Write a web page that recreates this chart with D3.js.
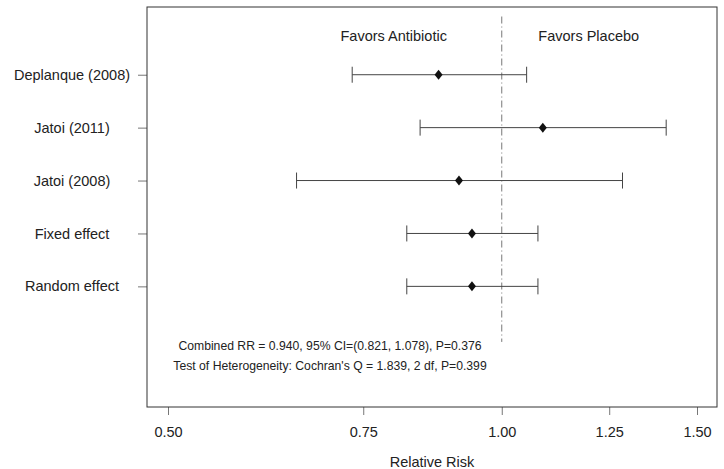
<!DOCTYPE html>
<html>
<head>
<meta charset="utf-8">
<script src="https://cdn.jsdelivr.net/npm/d3@7"></script>
<style>
  body { margin: 0; background: #fff; }
  svg { font-family: "Liberation Sans", Arial, sans-serif; }
</style>
</head>
<body>
<div id="chart"></div>
<script>
// forest plot data
var studies = ["Deplanque (2008)", "Jatoi (2011)", "Jatoi (2008)", "Fixed effect", "Random effect"]
var rr    = [0.877, 1.089, 0.915, 0.940, 0.940]
var lower = [0.733, 0.844, 0.653, 0.821, 0.821]
var upper = [1.053, 1.407, 1.285, 1.078, 1.078]
var rows  = [5, 4, 3, 2, 1]
var xTicks = [0.50, 0.75, 1.00, 1.25, 1.50]
var notes = [
  "Combined RR = 0.940, 95% CI=(0.821, 1.078), P=0.376",
  "Test of Heterogeneity: Cochran's Q = 1.839, 2 df, P=0.399"
]

var w = 724, h = 469
var box = {left: 147, right: 717, top: 7, bottom: 407}
var fs = 14.5

var svg = d3.select("#chart").append("svg")
  .attr("width", w)
  .attr("height", h)

var x = d3.scaleLog().domain([0.5, 1.5]).range([168, 697])
var y = d3.scaleLinear().domain([-1.28, 6.28]).range([box.bottom, box.top])

var data = studies.map(function(s, i) {
  return {name: s, rr: rr[i], lo: lower[i], hi: upper[i], row: rows[i]}
})

// reference line at RR = 1
svg.append("line")
  .attr("x1", x(1)).attr("x2", x(1))
  .attr("y1", y(6.1)).attr("y2", y(-0.05))
  .attr("stroke", "#777")
  .attr("stroke-width", 1)
  .attr("stroke-dasharray", "7,3,1,3")

// x axis
var xAxis = svg.append("g")
  .attr("transform", "translate(0," + box.bottom + ")")
  .call(d3.axisBottom(x).tickValues(xTicks).tickFormat(d3.format(".2f")).tickSize(8).tickPadding(12))
xAxis.select(".domain").remove()
xAxis.selectAll(".tick line").attr("stroke", "#777")
xAxis.selectAll("text").attr("font-size", fs).attr("fill", "#222")
  .attr("font-family", "'Liberation Sans', Arial, sans-serif")

// y axis ticks
var yAxis = svg.append("g")
  .attr("transform", "translate(" + box.left + ",0)")
  .call(d3.axisLeft(y).tickValues(rows).tickFormat("").tickSize(9))
yAxis.select(".domain").remove()
yAxis.selectAll(".tick line").attr("stroke", "#777")

// study labels
svg.selectAll(".lab")
  .data(data)
  .enter()
  .append("text")
  .attr("class", "lab")
  .attr("x", 72)
  .attr("y", function(d) { return y(d.row) })
  .attr("dy", "0.35em")
  .attr("text-anchor", "middle")
  .attr("font-size", fs)
  .attr("fill", "#222")
  .text(function(d) { return d.name })

// plot frame
svg.append("rect")
  .attr("x", box.left).attr("y", box.top)
  .attr("width", box.right - box.left)
  .attr("height", box.bottom - box.top)
  .attr("fill", "none")
  .attr("stroke", "#333")

// CI lines with caps
var ci = svg.selectAll(".ci")
  .data(data)
  .enter()
  .append("g")
  .attr("class", "ci")

ci.append("line")
  .attr("x1", function(d) { return x(d.lo) })
  .attr("x2", function(d) { return x(d.hi) })
  .attr("y1", function(d) { return y(d.row) })
  .attr("y2", function(d) { return y(d.row) })
  .attr("stroke", "#444")

ci.append("line")
  .attr("x1", function(d) { return x(d.lo) })
  .attr("x2", function(d) { return x(d.lo) })
  .attr("y1", function(d) { return y(d.row) - 8 })
  .attr("y2", function(d) { return y(d.row) + 8 })
  .attr("stroke", "#444")

ci.append("line")
  .attr("x1", function(d) { return x(d.hi) })
  .attr("x2", function(d) { return x(d.hi) })
  .attr("y1", function(d) { return y(d.row) - 8 })
  .attr("y2", function(d) { return y(d.row) + 8 })
  .attr("stroke", "#444")

// point estimates as diamonds
svg.selectAll(".pt")
  .data(data)
  .enter()
  .append("path")
  .attr("class", "pt")
  .attr("d", function(d) {
    var cx = x(d.rr), cy = y(d.row)
    return "M" + cx + "," + (cy - 5) + "L" + (cx + 4) + "," + cy +
      "L" + cx + "," + (cy + 5) + "L" + (cx - 4) + "," + cy + "Z"
  })
  .attr("fill", "#111")

// side headers
svg.append("text")
  .attr("x", x(0.799)).attr("y", 41)
  .attr("text-anchor", "middle")
  .attr("font-size", fs).attr("fill", "#222")
  .text("Favors Antibiotic")
svg.append("text")
  .attr("x", x(1.198)).attr("y", 41)
  .attr("text-anchor", "middle")
  .attr("font-size", fs).attr("fill", "#222")
  .text("Favors Placebo")

// summary notes
svg.selectAll(".note")
  .data(notes)
  .enter()
  .append("text")
  .attr("class", "note")
  .attr("x", x(0.70))
  .attr("y", function(d, i) { return 350 + i * 20 })
  .attr("text-anchor", "middle")
  .attr("font-size", 12.2).attr("fill", "#222")
  .text(function(d) { return d })

// x label
svg.append("text")
  .attr("x", (box.left + box.right) / 2)
  .attr("y", 467)
  .attr("text-anchor", "middle")
  .attr("font-size", fs).attr("fill", "#222")
  .text("Relative Risk")
</script>
</body>
</html>
